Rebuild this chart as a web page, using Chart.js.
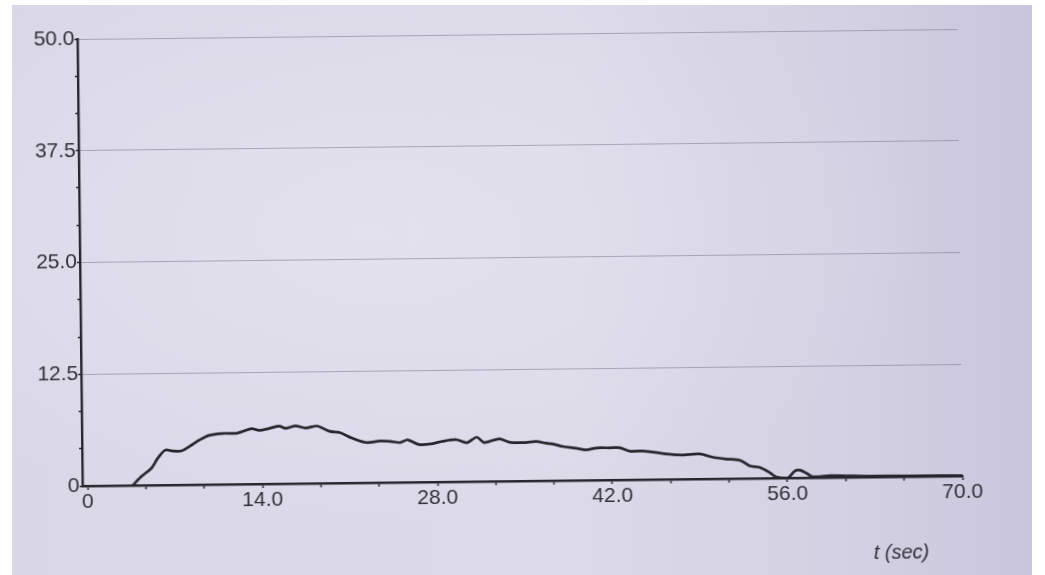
<!DOCTYPE html>
<html>
<head>
<meta charset="utf-8">
<script src="https://cdn.jsdelivr.net/npm/chart.js@4.4.1/dist/chart.umd.min.js"></script>
<style>
  html, body { margin: 0; padding: 0; background: #ffffff; }
  body { width: 1045px; height: 575px; position: relative; overflow: hidden; }
  #paper {
    position: absolute; left: 12px; top: 5px; width: 1020px; height: 570px;
    background:
      radial-gradient(ellipse at 35% 40%, rgba(232,231,242,0.55) 0%, rgba(232,231,242,0) 60%),
      linear-gradient(to right, #dad8e7 0%, #dcdae8 55%, #d2cfe2 85%, #c9c5dc 100%);
  }
  #plot {
    position: absolute; left: 0; top: 0;
    transform: rotate(-0.65deg); transform-origin: 520px 260px;
  }
</style>
</head>
<body>
<div id="paper"></div>
<canvas id="plot" width="1045" height="575"></canvas>
<script>
// Time stamps (s) and measured values of the trace
const tSec = [3.62, 4.33, 5.13, 5.64, 6.24, 6.84, 7.55, 8.2, 9.0, 9.76,
  10.87, 11.97, 12.47, 13.18, 13.78, 14.59, 15.39, 15.89, 16.7, 17.5,
  18.41, 19.41, 20.22, 21.22, 22.33, 23.44, 24.24, 25.05, 25.65, 26.55,
  27.66, 28.46, 29.57, 30.38, 31.18, 31.78, 32.99, 33.79, 35.1, 35.91,
  36.71, 37.26, 38.07, 39.12, 39.93, 40.73, 41.84, 42.59, 43.4, 44.46,
  45.56, 46.57, 47.67, 48.98, 50.09, 51.09, 52.2, 53.0, 53.81, 54.61,
  55.12, 56.02, 56.62, 57.03, 57.53, 58.03, 59.44, 61.25, 62.76, 65.78, 70.0];
const values = [0, 1.0, 1.9, 3.0, 3.9, 3.8, 3.8, 4.3, 5.0, 5.5,
  5.7, 5.7, 5.9, 6.2, 6.0, 6.2, 6.45, 6.2, 6.45, 6.2,
  6.4, 5.8, 5.65, 5.0, 4.5, 4.65, 4.6, 4.45, 4.75, 4.2,
  4.3, 4.55, 4.7, 4.35, 4.95, 4.35, 4.75, 4.35, 4.3, 4.4,
  4.2, 4.1, 3.8, 3.6, 3.4, 3.6, 3.6, 3.6, 3.2, 3.2,
  3.0, 2.8, 2.7, 2.8, 2.4, 2.2, 2.05, 1.4, 1.2, 0.6,
  0.1, 0.0, 0.8, 0.85, 0.5, 0.1, 0.2, 0.15, 0.1, 0.08, 0.05];

// Labelled (major) ticks; each interval is split into 3 minor steps
const xMajorValues = [0, 14, 28, 42, 56, 70];
const xMajorLabels = ['0', '14.0', '28.0', '42.0', '56.0', '70.0'];
const yMajorValues = [0, 12.5, 25, 37.5, 50];
const yMajorLabels = ['0', '12.5', '25.0', '37.5', '50.0'];
const minorSplit = 3;

const INK = '#26262d';
const TEXT = '#303037';
const GRID = 'rgba(128,126,148,0.6)';
const FONT = '"Liberation Sans", Arial, sans-serif';

function buildTicks(majors, labels) {
  const out = [];
  for (let i = 0; i < majors.length; i++) {
    out.push({ value: majors[i], major: true, label: labels[i] });
    if (i < majors.length - 1) {
      const step = (majors[i + 1] - majors[i]) / minorSplit;
      for (let j = 1; j < minorSplit; j++) {
        out.push({ value: majors[i] + step * j, major: false, label: '' });
      }
    }
  }
  return out;
}

const points = tSec.map((t, i) => ({ x: t, y: values[i] }));

// Axis title drawn beside the time axis
const axisTitle = {
  id: 'axisTitle',
  afterDraw(chart) {
    const { ctx, chartArea } = chart;
    ctx.save();
    ctx.font = 'italic 20px ' + FONT;
    ctx.fillStyle = TEXT;
    ctx.textAlign = 'right';
    ctx.textBaseline = 'middle';
    ctx.fillText('t (sec)', chartArea.right - 34, chartArea.bottom + 76);
    ctx.restore();
  }
};

new Chart(document.getElementById('plot'), {
  type: 'line',
  data: {
    datasets: [{
      data: points,
      borderColor: INK,
      borderWidth: 2.7,
      pointRadius: 0,
      tension: 0.3,
      fill: false
    }]
  },
  options: {
    responsive: false,
    animation: false,
    devicePixelRatio: 1,
    layout: { padding: { left: 0, right: 85, top: 34, bottom: 0 } },
    plugins: { legend: { display: false }, tooltip: { enabled: false } },
    scales: {
      x: {
        type: 'linear',
        min: -0.4,
        max: 70,
        afterBuildTicks(scale) { scale.ticks = buildTicks(xMajorValues, xMajorLabels); },
        afterFit(scale) { scale.height = 94; },
        border: { display: true, color: INK, width: 2.4 },
        grid: {
          drawOnChartArea: false,
          drawTicks: true,
          tickLength: 4,
          tickColor: INK,
          tickWidth: 1.5
        },
        ticks: {
          autoSkip: false,
          maxRotation: 0,
          padding: 0,
          color: TEXT,
          font: { family: FONT, size: 21 },
          callback(value, index, ticks) { return ticks[index].label; }
        }
      },
      y: {
        min: 0,
        max: 50,
        afterBuildTicks(scale) { scale.ticks = buildTicks(yMajorValues, yMajorLabels); },
        afterFit(scale) { scale.width = 80; },
        border: { display: true, color: INK, width: 2.4 },
        grid: {
          drawOnChartArea: true,
          drawTicks: true,
          tickLength: 3,
          tickWidth: 1.5,
          tickColor: INK,
          lineWidth: 1,
          color(ctx) { return ctx.tick && ctx.tick.major ? GRID : 'rgba(0,0,0,0)'; }
        },
        ticks: {
          autoSkip: false,
          padding: 0,
          color: TEXT,
          font: { family: FONT, size: 21 },
          callback(value, index, ticks) { return ticks[index].label; }
        }
      }
    }
  },
  plugins: [axisTitle]
});
</script>
</body>
</html>
